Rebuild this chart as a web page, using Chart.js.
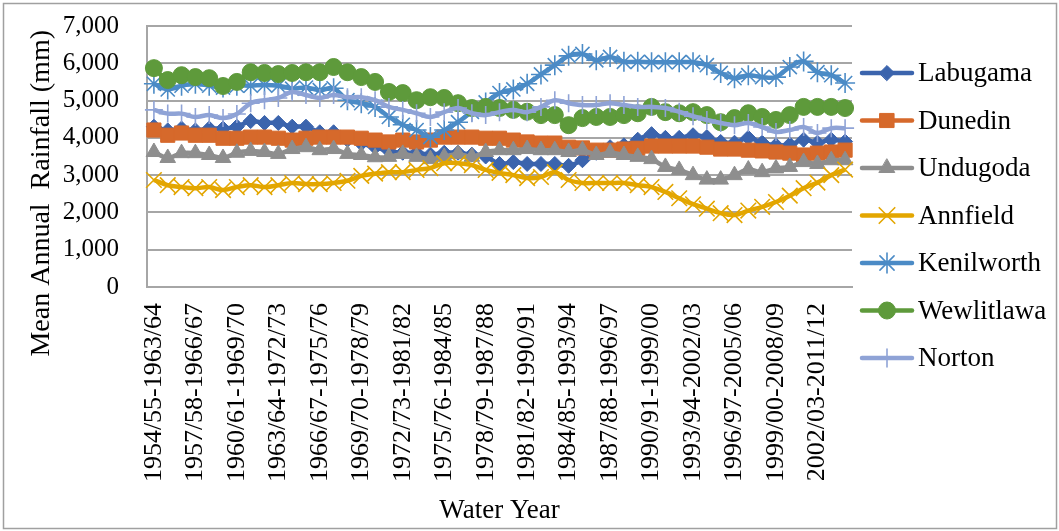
<!DOCTYPE html>
<html><head><meta charset="utf-8">
<script src="https://cdn.jsdelivr.net/npm/chart.js@4/dist/chart.umd.min.js"></script>
<style>html,body{margin:0;padding:0;background:#fff;}canvas{display:block;}</style>
</head><body>
<canvas id="c" width="1059" height="531"></canvas>
<script>
const categories = [
"1954/55-1963/64","1955/56-1964/65","1956/57-1965/66","1957/58-1966/67","1958/59-1967/68",
"1959/60-1968/69","1960/61-1969/70","1961/62-1970/71","1962/63-1971/72","1963/64-1972/73",
"1964/65-1973/74","1965/66-1974/75","1966/67-1975/76","1967/68-1976/77","1968/69-1977/78",
"1969/70-1978/79","1970/71-1979/80","1971/72-1980/81","1972/73-1981/82","1973/74-1982/83",
"1974/75-1983/84","1975/76-1984/85","1976/77-1985/86","1977/78-1986/87","1978/79-1987/88",
"1979/80-1988/89","1980/81-1989/90","1981/82-1990/91","1982/83-1991/92","1983/84-1992/93",
"1984/85-1993/94","1985/86-1994/95","1986/87-1995/96","1987/88-1996/97","1988/89-1997/98",
"1989/90-1998/99","1990/91-1999/00","1991/92-2000/01","1992/93-2001/02","1993/94-2002/03",
"1994/95-2003/04","1995/96-2004/05","1996/97-2005/06","1997/98-2006/07","1998/99-2007/08",
"1999/00-2008/09","2000/01-2009/10","2001/02-2010/11","2002/03-2011/12","2003/04-2012/13",
"2004/05-2013/14"];

const labugama = [4300,4200,4250,4200,4250,4250,4300,4450,4400,4400,4300,4300,4150,4150,3950,3850,3750,3650,3600,3600,3550,3600,3600,3550,3500,3300,3350,3300,3300,3300,3250,3400,3600,3750,3800,3950,4100,4000,4000,4070,4020,3890,3870,4000,3870,3800,3820,3950,3870,3950,3900];
const dunedin = [4210,4070,4130,4070,4070,3990,3990,4020,4020,3990,3940,3990,4020,4020,4020,3990,3940,3890,3940,3890,3940,4020,4020,4020,3990,3990,3940,3890,3860,3860,3750,3730,3670,3670,3700,3720,3780,3780,3780,3780,3750,3700,3700,3670,3650,3620,3590,3540,3590,3620,3670];
const undugoda = [3620,3460,3590,3590,3540,3460,3600,3650,3620,3570,3700,3750,3670,3700,3570,3540,3480,3490,3570,3490,3430,3490,3570,3490,3620,3670,3670,3700,3670,3670,3620,3670,3540,3600,3540,3490,3430,3220,3140,3000,2880,2880,3000,3150,3080,3180,3220,3350,3300,3400,3400];
const annfield = [2870,2730,2680,2650,2680,2600,2680,2730,2680,2730,2790,2760,2760,2790,2850,2980,3040,3080,3080,3140,3190,3320,3320,3270,3140,3060,3000,2920,2950,3080,2870,2790,2790,2790,2790,2730,2680,2550,2380,2220,2100,1980,1930,2050,2150,2280,2450,2650,2800,3000,3150];
const kenilworth = [5450,5300,5400,5450,5400,5350,5400,5400,5420,5400,5320,5350,5280,5330,5010,4930,4830,4560,4350,4210,4020,4210,4420,4700,4950,5200,5300,5450,5700,5950,6200,6250,6080,6170,6040,6040,6030,6030,6030,6030,5950,5740,5600,5680,5630,5630,5900,6050,5760,5680,5470];
const wewlitlawa = [5870,5550,5680,5630,5600,5390,5500,5760,5740,5710,5740,5760,5760,5900,5760,5630,5500,5230,5200,5010,5090,5070,4930,4800,4830,4800,4750,4700,4610,4610,4340,4530,4560,4560,4610,4660,4830,4690,4660,4690,4610,4420,4530,4660,4560,4480,4610,4830,4830,4830,4800];
const norton = [4750,4650,4650,4560,4610,4530,4640,4930,5010,5070,5230,5150,5070,5150,5090,5090,5010,4830,4750,4660,4560,4690,4800,4660,4610,4690,4750,4690,4830,5010,4930,4880,4880,4930,4880,4830,4830,4800,4700,4580,4480,4400,4340,4400,4290,4160,4210,4290,4130,4260,4260];

const seriesNames = ["Labugama","Dunedin","Undugoda","Annfield","Kenilworth","Wewlitlawa","Norton"];
const seriesValues = [labugama, dunedin, undugoda, annfield, kenilworth, wewlitlawa, norton];
const yTickValues = [0,1000,2000,3000,4000,5000,6000,7000];
const yTitle = "Mean Annual  Rainfall (mm)";
const xTitle = "Water Year";

const FONT = "'Liberation Serif','Times New Roman',serif";
const seriesStyles = [
  {color:'#3b64ad', pointStyle:'rectRot', radius:7.5, bw:1},
  {color:'#d6692b', pointStyle:'rect', radius:10, bw:1},
  {color:'#8e8e8e', pointStyle:'triangle', radius:9, bw:1},
  {color:'#e3a600', pointStyle:'crossRot', radius:11, bw:1.6},
  {color:'#4b8bc6', pointStyle:'star', radius:10, bw:1.6},
  {color:'#5e9a3b', pointStyle:'circle', radius:8.5, bw:1},
  {color:'#8fa3d6', pointStyle:'cross', radius:9, bw:1.6}
];

const datasets = seriesNames.map((name, i) => ({
  label: name,
  data: seriesValues[i],
  borderColor: seriesStyles[i].color,
  backgroundColor: seriesStyles[i].color,
  pointBackgroundColor: seriesStyles[i].color,
  pointBorderColor: seriesStyles[i].color,
  pointStyle: seriesStyles[i].pointStyle,
  pointRadius: seriesStyles[i].radius,
  pointBorderWidth: seriesStyles[i].bw,
  borderWidth: 4.5,
  tension: 0.35,
  fill: false,
  order: seriesNames.length - 1 - i
}));

const bgPlugin = {
  id: 'bg',
  beforeDraw(chart) {
    const ctx = chart.ctx;
    ctx.save();
    ctx.fillStyle = '#fff';
    ctx.fillRect(0, 0, chart.width, chart.height);
    ctx.restore();
  },
  afterDraw(chart) {
    const ctx = chart.ctx;
    ctx.save();
    ctx.strokeStyle = '#a0a0a0';
    ctx.lineWidth = 1.5;
    ctx.strokeRect(3.5, 3.5, chart.width - 6, chart.height - 6);
    ctx.fillStyle = '#000';
    ctx.font = '28px ' + FONT;
    ctx.textBaseline = 'middle';
    ctx.textAlign = 'right';
    ctx.translate(42, 30);
    ctx.rotate(-Math.PI / 2);
    ctx.fillText(yTitle, 0, 0);
    ctx.restore();
  }
};

const legendPlugin = {
  id: 'excelLegend',
  afterDraw(chart) {
    const ctx = chart.ctx;
    chart.data.datasets.forEach((ds, i) => {
      const y = 73 + i * 47.5;
      ctx.save();
      ctx.strokeStyle = ds.borderColor;
      ctx.lineWidth = ds.borderWidth;
      ctx.lineCap = 'round';
      ctx.beginPath();
      ctx.moveTo(862, y);
      ctx.lineTo(912, y);
      ctx.stroke();
      ctx.fillStyle = ds.pointBackgroundColor;
      ctx.strokeStyle = ds.pointBorderColor;
      ctx.lineWidth = ds.pointBorderWidth;
      Chart.helpers.drawPoint(ctx, {pointStyle: ds.pointStyle, radius: ds.pointRadius, borderWidth: ds.pointBorderWidth, rotation: 0}, 887, y);
      ctx.fillStyle = '#000';
      ctx.font = '27px ' + FONT;
      ctx.textBaseline = 'middle';
      ctx.textAlign = 'left';
      ctx.fillText(ds.label, 918, y + 1);
      ctx.restore();
    });
  }
};

new Chart(document.getElementById('c'), {
  type: 'line',
  data: { labels: categories, datasets },
  plugins: [bgPlugin, legendPlugin],
  options: {
    responsive: false,
    animation: false,
    devicePixelRatio: 1,
    layout: { padding: { top: 26, right: 207, left: 0, bottom: 0 } },
    plugins: { legend: { display: false }, tooltip: { enabled: false } },
    scales: {
      x: {
        offset: true,
        grid: { display: false, drawTicks: false },
        border: { color: '#a6a6a6', width: 2 },
        ticks: {
          autoSkip: false, minRotation: 90, maxRotation: 90, padding: 16,
          color: '#000', font: { family: FONT, size: 26 },
          callback: (v, i) => (i % 3 === 0 ? categories[i] : '')
        },
        title: { display: true, text: xTitle, color: '#000', font: { family: FONT, size: 27 }, padding: { top: 0, bottom: 4 } },
        afterFit: (s) => { s.height = 244; s.paddingLeft = 0; s.paddingRight = 0; }
      },
      y: {
        min: 0, max: 7000,
        afterBuildTicks: (s) => { s.ticks = yTickValues.map(v => ({ value: v })); },
        grid: { color: '#a6a6a6', lineWidth: 2, drawTicks: false },
        border: { color: '#a6a6a6', width: 2 },
        ticks: { padding: 28, color: '#000', font: { family: FONT, size: 25 }, callback: v => Number(v).toLocaleString('en-US') },
        title: { display: false },
        afterFit: (s) => { s.width = 147; s.paddingTop = 0; s.paddingBottom = 0; }
      }
    }
  }
});
</script>
</body></html>
